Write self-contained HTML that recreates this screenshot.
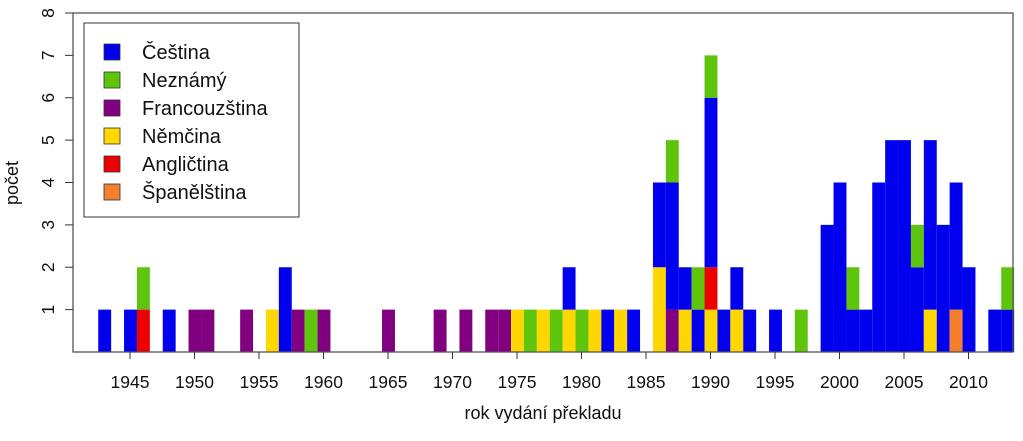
<!DOCTYPE html>
<html><head><meta charset="utf-8"><style>
body{margin:0;background:#fff}
svg text{font-family:"Liberation Sans",Arial,sans-serif;fill:#111}
</style></head><body>
<svg id="chart" width="1023" height="436" xmlns="http://www.w3.org/2000/svg">
<rect width="1023" height="436" fill="#fff"/>
<g id="bars"></g>
<rect x="73" y="13" width="940" height="339" fill="none" stroke="#555" stroke-width="1.3"/>
<g id="axes"></g>
<text x="543" y="419" font-size="18" text-anchor="middle">rok vydání překladu</text>
<text transform="translate(18,183) rotate(-90)" font-size="18" text-anchor="middle">počet</text>
<g>
<rect x="84" y="23" width="215" height="194" fill="#fff" stroke="#333" stroke-width="1"/>
<g id="legend-items"></g>
</g>
</svg>
<script>
const years = [1943,1945,1946,1948,1950,1951,1954,1956,1957,1958,1959,1960,1965,1969,1971,1973,1974,1975,1976,1977,1978,1979,1980,1981,1982,1983,1984,1986,1987,1988,1989,1990,1991,1992,1993,1995,1997,1999,2000,2001,2002,2003,2004,2005,2006,2007,2008,2009,2010,2012,2013];
const spanelstina = [0,0,0,0,0,0,0,0,0,0,0,0,0,0,0,0,0,0,0,0,0,0,0,0,0,0,0,0,0,0,0,0,0,0,0,0,0,0,0,0,0,0,0,0,0,0,0,1,0,0,0];
const nemcina     = [0,0,0,0,0,0,0,1,0,0,0,0,0,0,0,0,0,1,0,1,0,1,0,1,0,1,0,2,0,1,0,1,0,1,0,0,0,0,0,0,0,0,0,0,0,1,0,0,0,0,0];
const francouzstina=[0,0,0,0,1,1,1,0,0,1,0,1,1,1,1,1,1,0,0,0,0,0,0,0,0,0,0,0,1,0,0,0,0,0,0,0,0,0,0,0,0,0,0,0,0,0,0,0,0,0,0];
const anglictina  = [0,0,1,0,0,0,0,0,0,0,0,0,0,0,0,0,0,0,0,0,0,0,0,0,0,0,0,0,0,0,0,1,0,0,0,0,0,0,0,0,0,0,0,0,0,0,0,0,0,0,0];
const cestina     = [1,1,0,1,0,0,0,0,2,0,0,0,0,0,0,0,0,0,0,0,0,1,0,0,1,0,1,2,3,1,1,4,1,1,1,1,0,3,4,1,1,4,5,5,2,4,3,3,2,1,1];
const neznamy     = [0,0,1,0,0,0,0,0,0,0,1,0,0,0,0,0,0,0,1,0,1,0,1,0,0,0,0,0,1,0,1,1,0,0,0,0,1,0,0,1,0,0,0,0,1,0,0,0,0,0,1];
const xTicks = [1945,1950,1955,1960,1965,1970,1975,1980,1985,1990,1995,2000,2005,2010];
const yTicks = [1,2,3,4,5,6,7,8];
const seriesNames = ["Čeština","Neznámý","Francouzština","Němčina","Angličtina","Španělština"];
const seriesColors = ["#0000ee","#5ec40c","#800080","#ffd700","#ee0000","#f47f2d"];
const stackOrder = [[spanelstina,"#f47f2d","spanelstina"],[nemcina,"#ffd700","nemcina"],[francouzstina,"#800080","francouzstina"],[anglictina,"#ee0000","anglictina"],[cestina,"#0000ee","cestina"],[neznamy,"#5ec40c","neznamy"]];
const NS="http://www.w3.org/2000/svg";
function xs(v){return 130+(v-1945)*12.9;}
function ys(v){return 352-v*42.375;}
const bars=document.getElementById('bars');
years.forEach((yr,i)=>{
  let base=0;
  stackOrder.forEach(([arr,col,nm])=>{
    const v=arr[i]; if(!v) return;
    const r=document.createElementNS(NS,'rect');
    
    
    r.setAttribute('x',xs(yr)-5.95);r.setAttribute('width',12.9);
    r.setAttribute('y',ys(base+v));r.setAttribute('height',ys(base)-ys(base+v));
    r.setAttribute('fill',col);
    bars.appendChild(r);base+=v;
  });
});
const axes=document.getElementById('axes');
xTicks.forEach(t=>{
  const l=document.createElementNS(NS,'line');
  
  
  l.setAttribute('x1',xs(t));l.setAttribute('x2',xs(t));l.setAttribute('y1',352);l.setAttribute('y2',359);l.setAttribute('stroke','#333');
  axes.appendChild(l);
  const tx=document.createElementNS(NS,'text');
  
  
  tx.setAttribute('x',xs(t));tx.setAttribute('y',388);tx.setAttribute('font-size','17.5');tx.setAttribute('text-anchor','middle');
  tx.textContent=t;axes.appendChild(tx);
});
yTicks.forEach(t=>{
  const l=document.createElementNS(NS,'line');
  
  
  l.setAttribute('x1',65);l.setAttribute('x2',73);l.setAttribute('y1',ys(t));l.setAttribute('y2',ys(t));l.setAttribute('stroke','#333');
  axes.appendChild(l);
  const tx=document.createElementNS(NS,'text');
  
  
  tx.setAttribute('transform','translate(54,'+ys(t)+') rotate(-90)');tx.setAttribute('font-size','17.5');tx.setAttribute('text-anchor','middle');
  tx.textContent=t;axes.appendChild(tx);
});
const lg=document.getElementById('legend-items');
seriesNames.forEach((n,i)=>{
  const cy=52+i*28;
  const r=document.createElementNS(NS,'rect');
  
  
  r.setAttribute('x',104);r.setAttribute('y',cy-8);r.setAttribute('width',16);r.setAttribute('height',16);
  r.setAttribute('fill',seriesColors[i]);r.setAttribute('stroke','#333');r.setAttribute('stroke-width','0.8');
  lg.appendChild(r);
  const tx=document.createElementNS(NS,'text');
  
  
  tx.setAttribute('x',142);tx.setAttribute('y',cy+7);tx.setAttribute('font-size','20');
  tx.textContent=n;lg.appendChild(tx);
});
</script>
</body></html>
